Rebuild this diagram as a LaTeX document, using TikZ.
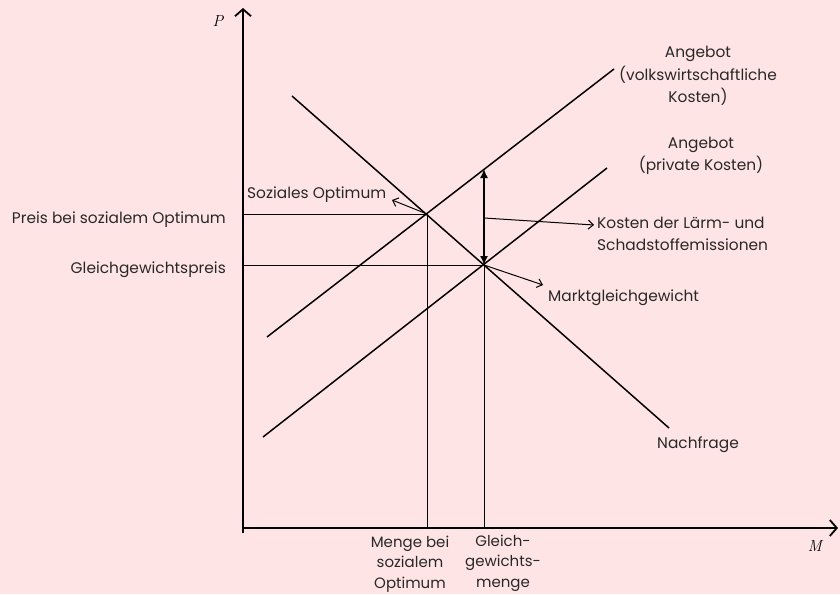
\documentclass[tikz,border=0pt]{standalone}
\usepackage{fontspec}
\setmainfont{Poppins}
\usetikzlibrary{arrows.meta}
\definecolor{bg}{RGB}{255,228,230}
\definecolor{txt}{RGB}{40,40,40}
\begin{document}
\begin{tikzpicture}[x=1pt,y=-1pt,
  lbl/.style={text=txt,font=\fontsize{15.4}{22}\selectfont,inner sep=0pt,align=center,anchor=base},
  lblb/.style={lbl,font=\fontsize{15}{20.5}\selectfont},
  axis/.style={line width=1.8pt,-{Straight Barb[length=7pt,width=16pt,line width=1.8pt]}},
  curve/.style={line width=1.5pt},
  guide/.style={line width=0.7pt},
  pointer/.style={line width=1pt,-{Straight Barb[length=5pt,width=9pt]}},
  axlbl/.style={font=\fontfamily{lmr}\itshape\fontsize{16}{18}\selectfont,inner sep=0pt}]
\fill[bg] (0,0) rectangle (840,594);
\useasboundingbox (0,0) rectangle (840,594);
% axes
\coordinate (O) at (243,528);
\coordinate (Ytop) at (243,8);
\coordinate (Xend) at (838,528);
\draw[axis] (O) ++(0,5) -- (Ytop);
\draw[axis] (O) -- (Xend);
\node[axlbl] (P) at (218,21) {P};
\node[axlbl] (M) at (815,546) {M};
% curves
\coordinate (D1) at (292,96);
\coordinate (D2) at (669,428);
\coordinate (S1a) at (267,337);
\coordinate (S1b) at (614,69);
\coordinate (S2a) at (263,437);
\coordinate (S2b) at (607,168);
\draw[curve] (D1) -- (D2);
\draw[curve] (S1a) -- (S1b);
\draw[curve] (S2a) -- (S2b);
% points
\coordinate (SO) at (427,214);
\coordinate (GG) at (484,265);
\coordinate (top) at (484,169);
\coordinate (mid) at (484,218);
\draw[guide] (SO -| O) -- (SO) -- (SO |- O);
\draw[guide] (GG -| O) -- (GG) -- (GG |- O);
\draw[line width=1.6pt,{Latex[length=9pt,width=8pt]}-{Latex[length=9pt,width=8pt]}] (top) -- (GG);
% labels
\node[lbl,anchor=base east] (preisSO) at (226,223) {Preis bei sozialem Optimum};
\node[lbl,anchor=base east] (preisGG) at (226,273) {Gleichgewichtspreis};
\node[lblb] (mengeSO) at (410,588) {Menge bei\\sozialem\\Optimum};
\node[lblb] (mengeGG) at (503,587) {Gleich-\\gewichts-\\menge};
\node[lbl,anchor=base west] (sozOpt) at (247,198) {Soziales Optimum};
\node[lbl] (angVW) at (698,102) {Angebot\\(volkswirtschaftliche\\Kosten)};
\node[lbl] (angPr) at (701,170) {Angebot\\(private Kosten)};
\node[lbl,align=left,anchor=base west] (kosten) at (597,250) {Kosten der Lärm- und\\Schadstoffemissionen};
\node[lbl,anchor=base west] (markt) at (548,301) {Marktgleichgewicht};
\node[lbl,anchor=base west] (nachfrage) at (657,448) {Nachfrage};
% pointers
\coordinate (sozTip) at (392,200);
\coordinate (kostTip) at (594,225);
\coordinate (marktTip) at (543,285);
\draw[pointer] (SO) -- (sozTip);
\draw[pointer] (mid) -- (kostTip);
\draw[pointer] (GG) -- (marktTip);
\end{tikzpicture}
\end{document}
